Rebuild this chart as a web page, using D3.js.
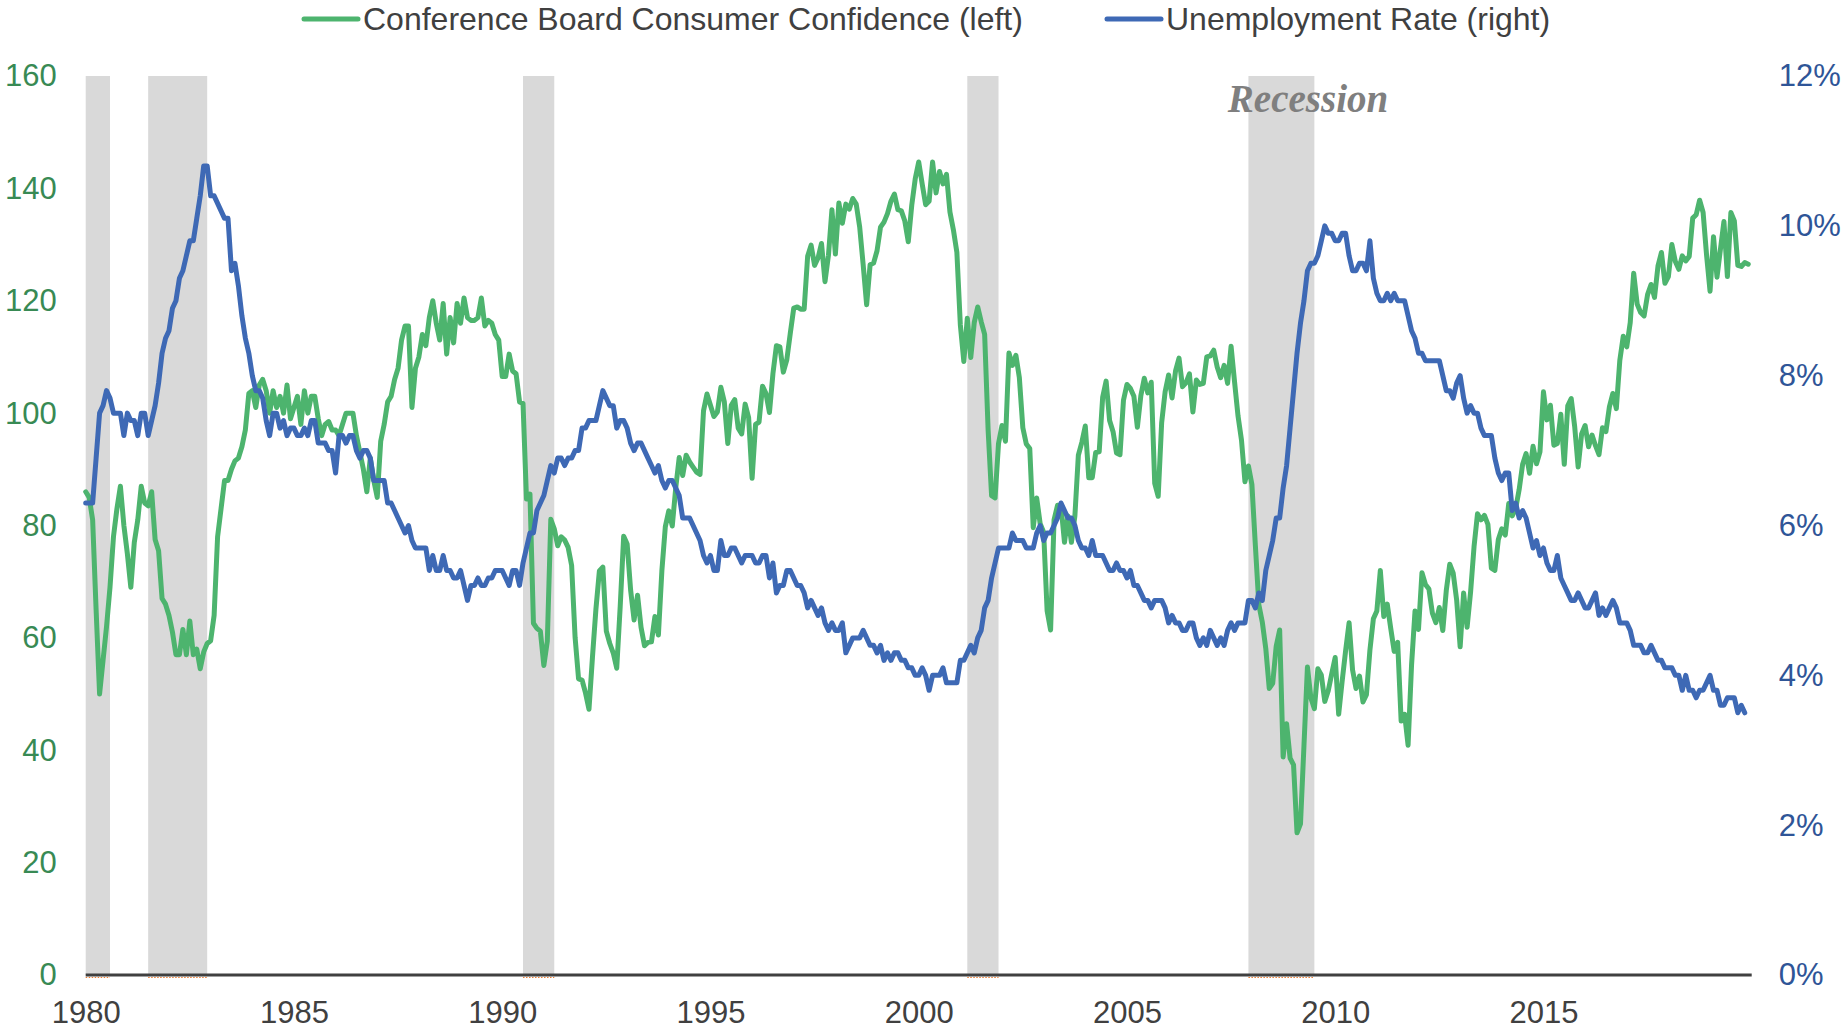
<!DOCTYPE html>
<html>
<head>
<meta charset="utf-8">
<script src="https://d3js.org/d3.v7.min.js"></script>
<style>
  body { margin: 0; background: #fff; }
  svg { display: block; font-family: "Liberation Sans", Arial, sans-serif; }
</style>
</head>
<body>
<svg width="1847" height="1029"></svg>
<script>

// monthly values, Jan 1980 onwards
const startYear = 1980

const confidence = [
  86, 85, 81, 65, 50, 56, 62, 69, 78, 83, 87, 80,
  75, 69, 77, 81, 87, 84, 83.5, 86, 77.5, 75.5, 67, 66,
  64, 61, 57, 57, 61.5, 57, 63, 57, 58, 54.5, 57.5, 59,
  59.5, 64, 78, 83, 88, 88, 90, 91.5, 92, 94, 97, 103.5,
  104, 101, 105, 106, 104, 100, 104, 101, 103, 100, 105, 99,
  101, 103, 98, 104, 100, 103, 103, 99, 96, 98, 98.5, 97,
  97, 96, 98, 100, 100, 100, 96, 93, 90, 86, 92, 88,
  85, 95, 98, 102, 103, 106, 108, 113, 115.5, 115.5, 101, 108,
  110, 114, 112, 117, 120, 116, 113, 119.5, 110.5, 117, 112.5, 119.5,
  116, 120.5, 117, 116.5, 116.5, 117, 120.5, 115.5, 116.5, 116, 114, 113,
  106.5, 106.5, 110.5, 107.5, 107, 102, 101.7, 84.7, 85.6, 62.6, 61.7, 61.2,
  55.1, 59.4, 81.1, 79.4, 76.4, 78.0, 77.4, 76.1, 72.9, 60.1, 52.7, 52.5,
  50.2, 47.3, 56.5, 65.1, 71.9, 72.6, 61.2, 59.0, 57.3, 54.6, 65.6, 78.1,
  76.7, 68.5, 63.2, 67.6, 61.9, 58.6, 59.2, 59.3, 63.8, 60.5, 71.9, 79.8,
  82.6, 79.9, 86.7, 92.1, 88.9, 92.5, 91.3, 90.4, 89.5, 89.1, 100.4, 103.4,
  101.4, 99.4, 100.2, 104.6, 102.0, 94.6, 101.4, 102.4, 97.3, 96.3, 101.6, 99.2,
  88.4, 98.0, 98.4, 104.8, 103.5, 100.1, 107.0, 112.0, 111.8, 107.3, 109.5, 114.2,
  118.7, 118.9, 118.5, 118.5, 127.9, 129.9, 126.3, 127.6, 130.2, 123.4, 128.1, 136.2,
  128.3, 137.4, 133.8, 137.2, 136.3, 138.2, 137.2, 133.1, 126.4, 119.3, 126.4, 126.7,
  128.9, 133.1, 134.0, 135.5, 137.7, 139.0, 136.2, 136.0, 134.2, 130.5, 137.0, 141.7,
  144.7, 140.8, 137.1, 137.7, 144.7, 139.2, 143.0, 140.8, 142.5, 135.8, 132.6, 128.6,
  115.7, 109.2, 116.9, 109.9, 116.1, 118.9, 116.3, 114.0, 97.0, 85.3, 84.9, 94.6,
  97.8, 95.0, 110.7, 108.5, 110.3, 106.3, 97.4, 94.5, 93.7, 79.6, 84.9, 80.3,
  78.8, 64.8, 61.4, 81.0, 83.6, 83.5, 77.0, 81.7, 77.0, 81.7, 92.5, 94.8,
  97.7, 88.5, 88.5, 93.0, 93.1, 102.8, 105.7, 98.7, 96.7, 92.9, 92.6, 102.3,
  105.1, 104.4, 103.0, 97.5, 103.1, 106.2, 103.6, 105.5, 87.5, 85.2, 98.3, 103.8,
  106.8, 102.7, 107.5, 109.8, 104.7, 105.4, 107.0, 100.2, 105.9, 105.1, 105.3, 110.0,
  110.2, 111.2, 108.2, 106.3, 108.5, 105.3, 111.9, 105.6, 99.5, 95.2, 87.8, 90.6,
  87.3, 76.4, 65.9, 62.8, 58.1, 51.0, 51.9, 58.5, 61.4, 38.8, 44.7, 38.6,
  37.4, 25.3, 26.9, 40.8, 54.8, 49.3, 47.4, 54.5, 53.4, 48.7, 50.6, 53.6,
  56.5, 46.4, 52.3, 57.7, 62.7, 54.3, 51.0, 53.2, 48.6, 49.9, 57.8, 63.4,
  64.8, 72.0, 63.8, 66.0, 61.7, 57.6, 59.2, 45.2, 46.4, 40.9, 55.2, 64.8,
  61.5, 71.6, 69.5, 68.7, 64.4, 62.7, 65.4, 61.3, 68.4, 73.1, 71.5, 66.7,
  58.4, 68.0, 61.9, 68.1, 76.2, 82.1, 81.0, 81.8, 80.2, 72.4, 72.0, 77.5,
  79.4, 78.3, 83.9, 81.7, 83.0, 86.4, 90.9, 92.8, 89.3, 94.1, 91.0, 93.1,
  103.8, 98.8, 101.4, 94.3, 94.6, 99.8, 90.9, 101.3, 102.6, 97.6, 90.4, 96.3,
  97.8, 94.0, 96.1, 94.2, 92.6, 97.4, 96.7, 101.1, 103.5, 100.8, 109.4, 113.7,
  111.8, 116.1, 124.9, 119.4, 117.9, 117.3, 121.1, 122.9, 120.6, 126.2, 128.6, 123.1,
  124.3, 130.0, 127.0, 125.6, 128.0, 127.1, 127.9, 134.7, 135.3, 137.9, 135.7, 128.1,
  121.7, 131.4, 124.2, 129.2, 134.1, 124.3, 135.7, 134.2, 126.3, 126.1, 126.8, 126.5
]

const unemployment = [
  6.3, 6.3, 6.3, 6.9, 7.5, 7.6, 7.8, 7.7, 7.5, 7.5, 7.5, 7.2,
  7.5, 7.4, 7.4, 7.2, 7.5, 7.5, 7.2, 7.4, 7.6, 7.9, 8.3, 8.5,
  8.6, 8.9, 9.0, 9.3, 9.4, 9.6, 9.8, 9.8, 10.1, 10.4, 10.8, 10.8,
  10.4, 10.4, 10.3, 10.2, 10.1, 10.1, 9.4, 9.5, 9.2, 8.8, 8.5, 8.3,
  8.0, 7.8, 7.8, 7.7, 7.4, 7.2, 7.5, 7.5, 7.3, 7.4, 7.2, 7.3,
  7.3, 7.2, 7.2, 7.3, 7.2, 7.4, 7.4, 7.1, 7.1, 7.1, 7.0, 7.0,
  6.7, 7.2, 7.2, 7.1, 7.2, 7.2, 7.0, 6.9, 7.0, 7.0, 6.9, 6.6,
  6.6, 6.6, 6.6, 6.3, 6.3, 6.2, 6.1, 6.0, 5.9, 6.0, 5.8, 5.7,
  5.7, 5.7, 5.7, 5.4, 5.6, 5.4, 5.4, 5.6, 5.4, 5.4, 5.3, 5.3,
  5.4, 5.2, 5.0, 5.2, 5.2, 5.3, 5.2, 5.2, 5.3, 5.3, 5.4, 5.4,
  5.4, 5.3, 5.2, 5.4, 5.4, 5.2, 5.5, 5.7, 5.9, 5.9, 6.2, 6.3,
  6.4, 6.6, 6.8, 6.7, 6.9, 6.9, 6.8, 6.9, 6.9, 7.0, 7.0, 7.3,
  7.3, 7.4, 7.4, 7.4, 7.6, 7.8, 7.7, 7.6, 7.6, 7.3, 7.4, 7.4,
  7.3, 7.1, 7.0, 7.1, 7.1, 7.0, 6.9, 6.8, 6.7, 6.8, 6.6, 6.5,
  6.6, 6.6, 6.5, 6.4, 6.1, 6.1, 6.1, 6.0, 5.9, 5.8, 5.6, 5.5,
  5.6, 5.4, 5.4, 5.8, 5.6, 5.6, 5.7, 5.7, 5.6, 5.5, 5.6, 5.6,
  5.6, 5.5, 5.5, 5.6, 5.6, 5.3, 5.5, 5.1, 5.2, 5.2, 5.4, 5.4,
  5.3, 5.2, 5.2, 5.1, 4.9, 5.0, 4.9, 4.8, 4.9, 4.7, 4.6, 4.7,
  4.6, 4.6, 4.7, 4.3, 4.4, 4.5, 4.5, 4.5, 4.6, 4.5, 4.4, 4.4,
  4.3, 4.4, 4.2, 4.3, 4.2, 4.3, 4.3, 4.2, 4.2, 4.1, 4.1, 4.0,
  4.0, 4.1, 4.0, 3.8, 4.0, 4.0, 4.0, 4.1, 3.9, 3.9, 3.9, 3.9,
  4.2, 4.2, 4.3, 4.4, 4.3, 4.5, 4.6, 4.9, 5.0, 5.3, 5.5, 5.7,
  5.7, 5.7, 5.7, 5.9, 5.8, 5.8, 5.8, 5.7, 5.7, 5.7, 5.9, 6.0,
  5.8, 5.9, 5.9, 6.0, 6.1, 6.3, 6.2, 6.1, 6.1, 6.0, 5.8, 5.7,
  5.7, 5.6, 5.8, 5.6, 5.6, 5.6, 5.5, 5.4, 5.4, 5.5, 5.4, 5.4,
  5.3, 5.4, 5.2, 5.2, 5.1, 5.0, 5.0, 4.9, 5.0, 5.0, 5.0, 4.9,
  4.7, 4.8, 4.7, 4.7, 4.6, 4.6, 4.7, 4.7, 4.5, 4.4, 4.5, 4.4,
  4.6, 4.5, 4.4, 4.5, 4.4, 4.6, 4.7, 4.6, 4.7, 4.7, 4.7, 5.0,
  5.0, 4.9, 5.1, 5.0, 5.4, 5.6, 5.8, 6.1, 6.1, 6.5, 6.8, 7.3,
  7.8, 8.3, 8.7, 9.0, 9.4, 9.5, 9.5, 9.6, 9.8, 10.0, 9.9, 9.9,
  9.8, 9.8, 9.9, 9.9, 9.6, 9.4, 9.4, 9.5, 9.5, 9.4, 9.8, 9.3,
  9.1, 9.0, 9.0, 9.1, 9.0, 9.1, 9.0, 9.0, 9.0, 8.8, 8.6, 8.5,
  8.3, 8.3, 8.2, 8.2, 8.2, 8.2, 8.2, 8.0, 7.8, 7.8, 7.7, 7.9,
  8.0, 7.7, 7.5, 7.6, 7.5, 7.5, 7.3, 7.2, 7.2, 7.2, 6.9, 6.7,
  6.6, 6.7, 6.7, 6.2, 6.3, 6.1, 6.2, 6.1, 5.9, 5.7, 5.8, 5.6,
  5.7, 5.5, 5.4, 5.4, 5.6, 5.3, 5.2, 5.1, 5.0, 5.0, 5.1, 5.0,
  4.9, 4.9, 5.0, 5.1, 4.8, 4.9, 4.8, 4.9, 5.0, 4.9, 4.7, 4.7,
  4.7, 4.6, 4.4, 4.4, 4.4, 4.3, 4.3, 4.4, 4.3, 4.2, 4.2, 4.1,
  4.1, 4.1, 4.0, 4.0, 3.8, 4.0, 3.8, 3.8, 3.7, 3.8, 3.8, 3.9,
  4.0, 3.8, 3.8, 3.6, 3.6, 3.7, 3.7, 3.7, 3.5, 3.6, 3.5
]

const recessionStarts = ["1980-01", "1981-07", "1990-07", "2001-03", "2007-12"]
const recessionEnds = ["1980-07", "1982-11", "1991-03", "2001-11", "2009-06"]

const yearTicks = [1980, 1985, 1990, 1995, 2000, 2005, 2010, 2015]
const leftTicks = [0, 20, 40, 60, 80, 100, 120, 140, 160]
const rightTicks = [0, 2, 4, 6, 8, 10, 12]
const seriesNames = ["Conference Board Consumer Confidence (left)", "Unemployment Rate (right)"]

const green = "#4db46e"
const blue = "#3e69b5"

const svg = d3.select("svg")
const margin = {top: 76, bottom: 54, left: 85.7, right: 95.3}
const width = +svg.attr("width")
const height = +svg.attr("height")

const scaleX = d3.scaleLinear()
    .domain([1980, 2020])
    .range([margin.left, width - margin.right])

const scaleLeft = d3.scaleLinear()
    .domain([0, 160])
    .range([height - margin.bottom, margin.top])

const scaleRight = d3.scaleLinear()
    .domain([0, 12])
    .range([height - margin.bottom, margin.top])

function monthToYear(s) {
    const parts = s.split("-")
    return +parts[0] + (+parts[1] - 1) / 12
}

const recessions = recessionStarts.map((s, i) => ({start: monthToYear(s), end: monthToYear(recessionEnds[i]) + 1/12}))

// grey recession bands
svg.append("g")
  .selectAll("rect")
  .data(recessions)
  .enter()
  .append("rect")
    .attr("x", d => scaleX(d.start))
    .attr("width", d => scaleX(d.end) - scaleX(d.start))
    .attr("y", scaleLeft(160))
    .attr("height", scaleLeft(0) - scaleLeft(160))
    .attr("fill", "#d9d9d9")

svg.append("g")
  .selectAll("line")
  .data(recessions)
  .enter()
  .append("line")
    .attr("x1", d => scaleX(d.start))
    .attr("x2", d => scaleX(d.end))
    .attr("y1", scaleLeft(0) + 2.5)
    .attr("y2", scaleLeft(0) + 2.5)
    .attr("stroke", "#ed7d31")
    .attr("stroke-width", 1)
    .attr("stroke-dasharray", "1.5,1.5")

svg.append("text")
    .attr("x", 1308)
    .attr("y", 112)
    .attr("text-anchor", "middle")
    .style("font-family", "'Liberation Serif', 'DejaVu Serif', serif")
    .style("font-style", "italic")
    .style("font-weight", "bold")
    .style("font-size", "39px")
    .attr("fill", "#7f7f7f")
    .text("Recession")

// axes
const leftAxis = d3.axisLeft(scaleLeft)
    .tickValues(leftTicks)
    .tickSize(0)
    .tickPadding(29)

const rightAxis = d3.axisRight(scaleRight)
    .tickValues(rightTicks)
    .tickSize(0)
    .tickPadding(27)
    .tickFormat(d => d + "%")

const bottomAxis = d3.axisBottom(scaleX)
    .tickValues(yearTicks)
    .tickSize(0)
    .tickPadding(26)
    .tickFormat(d3.format("d"))

svg.append("g")
    .attr("transform", `translate(${margin.left},0)`)
    .call(leftAxis)
    .call(g => g.select(".domain").remove())
    .call(g => g.selectAll("text").attr("fill", "#388a54").style("font-size", "31px").style("font-family", "'Liberation Sans', Arial, sans-serif"))

svg.append("g")
    .attr("transform", `translate(${width - margin.right},0)`)
    .call(rightAxis)
    .call(g => g.select(".domain").remove())
    .call(g => g.selectAll("text").attr("fill", "#2f5597").style("font-size", "31px").style("font-family", "'Liberation Sans', Arial, sans-serif"))

svg.append("g")
    .attr("transform", `translate(0,${height - margin.bottom})`)
    .call(bottomAxis)
    .call(g => g.select(".domain").remove())
    .call(g => g.selectAll("text").attr("fill", "#404040").style("font-size", "31px").style("font-family", "'Liberation Sans', Arial, sans-serif"))

svg.append("line")
    .attr("x1", scaleX(1980))
    .attr("x2", scaleX(2020))
    .attr("y1", scaleLeft(0))
    .attr("y2", scaleLeft(0))
    .attr("stroke", "#404040")
    .attr("stroke-width", 3)

// the two series
const confLine = d3.line()
    .x((d, i) => scaleX(startYear + i / 12))
    .y(d => scaleLeft(d))

const unempLine = d3.line()
    .x((d, i) => scaleX(startYear + i / 12))
    .y(d => scaleRight(d))

svg.append("path")
    .datum(confidence)
    .attr("d", confLine)
    .attr("fill", "none")
    .attr("stroke", green)
    .attr("stroke-width", 5)
    .attr("stroke-linejoin", "round")
    .attr("stroke-linecap", "round")

svg.append("path")
    .datum(unemployment)
    .attr("d", unempLine)
    .attr("fill", "none")
    .attr("stroke", blue)
    .attr("stroke-width", 5)
    .attr("stroke-linejoin", "round")
    .attr("stroke-linecap", "round")

// legend
const legendX = [304, 1107]
const legend = svg.append("g")
  .selectAll("g")
  .data(seriesNames)
  .enter()
  .append("g")
    .attr("transform", (d, i) => `translate(${legendX[i]},19)`)

legend.append("line")
    .attr("x1", 0)
    .attr("x2", 54)
    .attr("stroke", (d, i) => i == 0 ? green : blue)
    .attr("stroke-width", 5)
    .attr("stroke-linecap", "round")

legend.append("text")
    .attr("x", 59)
    .attr("dy", "0.35em")
    .attr("fill", "#404040")
    .style("font-size", "32px")
    .text(d => d)

</script>
</body>
</html>
